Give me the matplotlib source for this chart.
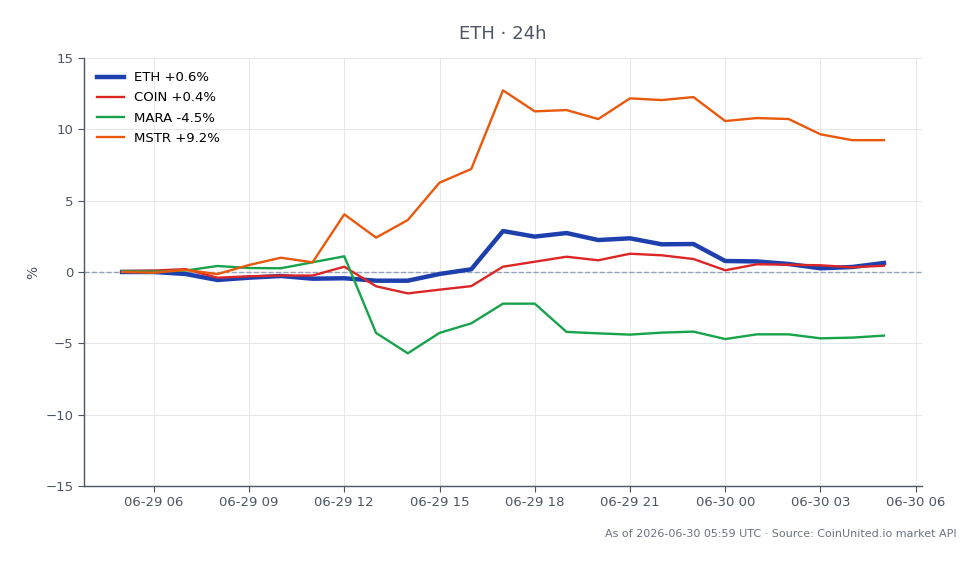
import numpy as np
import pandas as pd
import matplotlib
matplotlib.use("Agg")
import matplotlib.pyplot as plt
import matplotlib.dates as mdates

# ── data (hourly % change vs. start) ──────────────────────────────────────────
times = pd.date_range("2026-06-29 05:00", "2026-06-30 05:00", freq="h")

eth = [0.0, 0.0, -0.14, -0.56, -0.4, -0.28, -0.47, -0.44, -0.61, -0.61, -0.14, 0.19,
       2.87, 2.48, 2.73, 2.24, 2.36, 1.94, 1.96, 0.77, 0.74, 0.56, 0.26, 0.35, 0.63]
coin = [0.07, 0.1, 0.2, -0.4, -0.3, -0.25, -0.25, 0.37, -1.0, -1.5, -1.24, -0.99,
        0.37, 0.72, 1.07, 0.82, 1.28, 1.17, 0.91, 0.12, 0.54, 0.51, 0.47, 0.33, 0.44]
mara = [0.05, 0.03, 0.1, 0.42, 0.28, 0.26, 0.68, 1.1, -4.27, -5.7, -4.27, -3.6,
        -2.22, -2.22, -4.2, -4.3, -4.39, -4.25, -4.18, -4.7, -4.37, -4.37, -4.65, -4.6, -4.46]
mstr = [0.0, -0.05, 0.15, -0.15, 0.49, 1.0, 0.68, 4.04, 2.41, 3.64, 6.26, 7.22,
        12.73, 11.26, 11.35, 10.72, 12.17, 12.05, 12.26, 10.58, 10.79, 10.72, 9.65, 9.24, 9.24]

series = [
    ("ETH", eth, "#1e40af", 3.2),
    ("COIN", coin, "#dc2626", 1.7),
    ("MARA", mara, "#16a34a", 1.7),
    ("MSTR", mstr, "#ea580c", 1.7),
]

TEXT = "#4b5563"
GRID = "#e5e7eb"

# ── plot ──────────────────────────────────────────────────────────────────────
fig = plt.figure(figsize=(9.79, 5.64), dpi=100)
ax = fig.add_axes([0.0858, 0.1383, 0.856, 0.7589])

ax.axhline(0, color="#94a3b8", linewidth=1.0, linestyle="--", zorder=1)
for name, vals, color, lw in series:
    ax.plot(times, vals, color=color, linewidth=lw, zorder=3,
            label=f"{name} {vals[-1]:+.1f}%")

ax.set_ylim(-15, 15)
ax.set_yticks([-15, -10, -5, 0, 5, 10, 15])
ax.xaxis.set_major_locator(mdates.HourLocator(byhour=range(0, 24, 3)))
ax.xaxis.set_major_formatter(mdates.DateFormatter("%m-%d %H"))
ax.set_xlim(times[0] - pd.Timedelta(hours=1.2), times[-1] + pd.Timedelta(hours=1.2))

ax.grid(True, color=GRID, linewidth=0.7)
ax.set_axisbelow(True)
for s in ("top", "right"):
    ax.spines[s].set_visible(False)
for s in ("left", "bottom"):
    ax.spines[s].set_color(TEXT)
    ax.spines[s].set_linewidth(1.0)
ax.tick_params(colors=TEXT, labelsize=9.5, length=4)
ax.set_ylabel("%", color=TEXT, fontsize=10)

ax.set_title("ETH · 24h", color=TEXT, fontsize=13, pad=14)
ax.legend(loc="upper left", frameon=False, fontsize=9.5, handlelength=2.0,
          borderaxespad=0.6, labelspacing=0.55)

fig.text(0.977, 0.044, "As of 2026-06-30 05:59 UTC · Source: CoinUnited.io market API",
         ha="right", va="bottom", fontsize=8, color="#6b7280")

fig.savefig("out.png", dpi=100)
